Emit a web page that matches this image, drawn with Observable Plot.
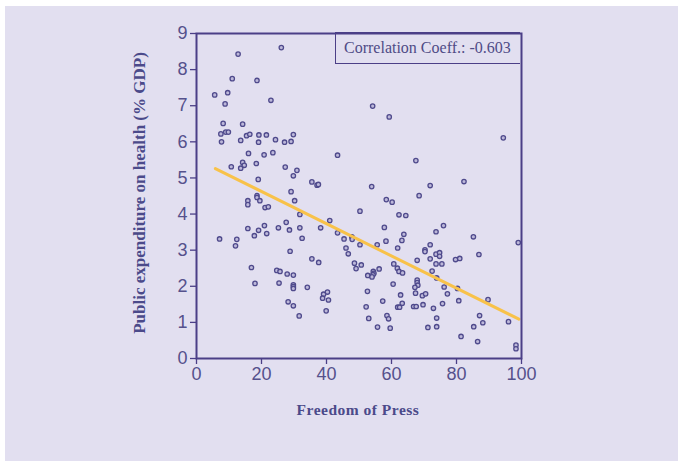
<!DOCTYPE html>
<html>
<head>
<meta charset="utf-8">
<script src="https://cdn.jsdelivr.net/npm/d3@7"></script>
<script src="https://cdn.jsdelivr.net/npm/@observablehq/plot@0.6"></script>
<style>
  html, body { margin: 0; padding: 0; background: #ffffff; }
  #wrap { position: relative; width: 678px; height: 461px; background: #ffffff; overflow: hidden; }
  #bg { position: absolute; left: 5px; top: 6px; right: 0; bottom: 0; background: #e2dff0; }
  #chart { position: absolute; left: 0; top: 0; }
  #chart svg { background: transparent; }
  #chart svg g[aria-label="y-axis tick label"] text,
  #chart svg g[aria-label="x-axis tick label"] text { fill: #55518c; }
  #legend { position: absolute; left: 335px; top: 32px; width: 185px; height: 32px;
    border: 1.5px solid #4b3f87; border-right: none; box-sizing: border-box;
    font-family: "Liberation Serif", "Times New Roman", serif; font-size: 16px; color: #4f4b86;
    line-height: 30px; padding-left: 8px; white-space: nowrap; }
  .ylab { position: absolute; left: 140px; top: 193px; transform: translate(-50%, -50%) rotate(-90deg);
    font-family: "Liberation Serif", "Times New Roman", serif; font-weight: bold; font-size: 17px;
    color: #4b4a8a; white-space: nowrap; }
  .xlab { position: absolute; left: 358px; top: 410px; transform: translate(-50%, -50%);
    font-family: "Liberation Serif", "Times New Roman", serif; font-weight: bold; font-size: 15.5px;
    color: #4b4a8a; white-space: nowrap; letter-spacing: 0.5px; }
</style>
</head>
<body>
<div id="wrap">
  <div id="bg"></div>
  <div id="chart"></div>
  <div id="legend">Correlation Coeff.: -0.603</div>
  <div class="ylab">Public expenditure on health (% GDP)</div>
  <div class="xlab">Freedom of Press</div>
</div>
<script>
const freedom = [
  26.1,12.8,11.0,18.6,5.6,9.6,8.8,22.9,8.2,14.2,7.5,9.0,9.8,7.7,13.6,15.4,16.4,19.1,19.2,21.5,24.3,27.1,29.1,29.8,
  16.0,20.8,23.5,14.2,14.7,10.7,13.6,18.4,27.3,30.9,29.8,19.0,29.1,18.6,18.6,19.5,15.8,15.8,21.1,22.1,30.2,31.8,
  27.6,20.9,15.8,19.1,25.2,28.6,31.8,21.6,17.8,7.1,12.4,12.0,32.5,28.8,35.5,16.9,18.0,24.7,25.7,27.9,29.8,25.4,
  29.8,29.8,29.8,34.1,28.2,29.8,31.6,43.4,67.5,37.1,37.5,53.9,58.4,60.2,68.5,50.3,62.3,64.4,41.0,38.2,43.4,57.8,
  63.8,45.4,47.8,47.9,58.3,63.2,50.3,55.6,46.0,61.9,46.7,35.5,67.9,37.6,48.6,49.1,50.7,54.4,54.6,54.3,52.7,54.0,
  56.2,60.7,61.8,62.3,63.4,67.9,67.9,68.1,67.2,67.4,66.8,67.6,39.1,40.3,38.8,40.6,39.9,52.6,60.5,57.3,62.8,63.3,
  61.9,62.5,52.2,53.0,58.6,59.1,55.7,59.6,71.9,82.3,76.0,73.7,85.2,99.0,71.9,70.3,70.3,73.7,74.8,74.8,71.9,79.7,
  81.0,86.9,73.7,75.5,72.5,73.9,76.2,80.3,69.5,70.5,77.2,80.7,89.7,69.7,75.7,72.9,73.9,87.1,88.1,96.0,71.2,73.9,
  85.3,81.4,86.5,98.3,98.3,54.2,59.3,94.4
];
const health = [
  8.61,8.43,7.75,7.70,7.30,7.36,7.05,7.15,6.51,6.49,6.22,6.27,6.27,6.00,6.04,6.17,6.21,5.99,6.19,6.19,6.06,5.99,6.01,6.20,
  5.68,5.64,5.70,5.43,5.35,5.31,5.27,5.40,5.30,5.21,5.06,4.96,4.62,4.51,4.46,4.37,4.37,4.26,4.18,4.20,4.37,3.99,
  3.77,3.68,3.60,3.55,3.62,3.56,3.62,3.46,3.40,3.31,3.30,3.12,3.33,2.97,4.89,2.52,2.08,2.44,2.41,2.34,2.31,2.09,
  2.04,1.99,1.94,1.97,1.57,1.46,1.18,5.63,5.48,4.80,4.82,4.76,4.40,4.33,4.51,4.08,3.98,3.96,3.82,3.62,3.48,3.63,
  3.44,3.31,3.37,3.30,3.25,3.27,3.15,3.15,3.06,3.06,2.90,2.76,2.72,2.66,2.64,2.49,2.59,2.41,2.36,2.32,2.30,2.26,
  2.48,2.62,2.50,2.41,2.37,2.17,2.10,2.03,1.97,1.81,1.44,1.44,1.78,1.84,1.67,1.62,1.32,1.86,2.06,1.59,1.76,1.53,
  1.42,1.42,1.43,1.11,1.19,1.10,0.87,0.84,4.79,4.90,3.68,3.51,3.37,3.21,3.15,3.01,2.96,2.89,2.93,2.83,2.76,2.74,
  2.77,2.88,2.62,2.62,2.42,2.23,1.98,1.94,1.74,1.79,1.79,1.60,1.63,1.49,1.52,1.39,1.12,1.19,0.99,1.02,0.86,0.88,
  0.88,0.61,0.47,0.37,0.27,6.99,6.69,6.11
];
const trendX = [5.8, 99.2];
const trendY = [5.26, 1.09];
const xTicks = [0, 20, 40, 60, 80, 100];
const yTicks = [0, 1, 2, 3, 4, 5, 6, 7, 8, 9];

const points = freedom.map((f, i) => ({f, h: health[i]}));
const trend = trendX.map((x, i) => ({x, y: trendY[i]}));

const axisColor = "#4b3f87";
const chart = Plot.plot({
  width: 678,
  height: 461,
  marginLeft: 196,
  marginRight: 157,
  marginTop: 33,
  marginBottom: 103,
  style: {background: "transparent", fontFamily: "'Liberation Sans', Arial, sans-serif", fontSize: "18px"},
  x: {domain: [0, 100]},
  y: {domain: [0, 9]},
  marks: [
    Plot.axisX({ticks: xTicks, tickSize: 6, tickPadding: 3, stroke: axisColor, strokeWidth: 1.3, label: null, fontSize: 18}),
    Plot.axisY({ticks: yTicks, tickSize: 6, tickPadding: 3, stroke: axisColor, strokeWidth: 1.3, label: null, fontSize: 18}),
    Plot.dot(points, {x: "f", y: "h", r: 2.2, stroke: "#4f4a8c", strokeWidth: 1.3, fill: "#bdb8da"}),
    Plot.line(trend, {x: "x", y: "y", stroke: "#f8c24a", strokeWidth: 3}),
    Plot.frame({stroke: axisColor, strokeWidth: 2})
  ]
});
document.getElementById("chart").appendChild(chart);
</script>
</body>
</html>
